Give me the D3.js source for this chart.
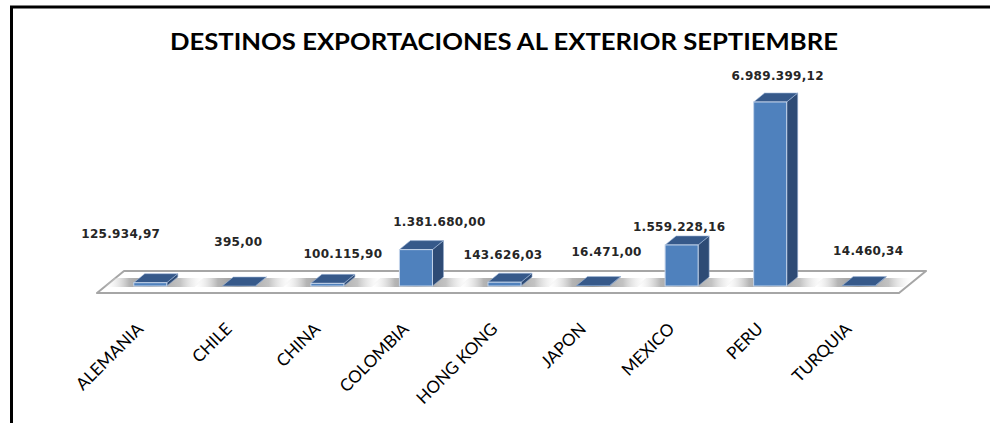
<!DOCTYPE html>
<html>
<head>
<meta charset="utf-8">
<script src="https://cdn.jsdelivr.net/npm/d3@7"></script>
<style>
  html, body { margin: 0; padding: 0; background: #fff; }
  svg { display: block; }
</style>
</head>
<body>
<svg id="chart" width="990" height="423"></svg>
<script>
// Export destinations, September
const categories = ["ALEMANIA", "CHILE", "CHINA", "COLOMBIA", "HONG KONG", "JAPON", "MEXICO", "PERU", "TURQUIA"];
const values = [125934.97, 395.00, 100115.90, 1381680.00, 143626.03, 16471.00, 1559228.16, 6989399.12, 14460.34];
const chartTitle = "DESTINOS EXPORTACIONES AL EXTERIOR SEPTIEMBRE";

// Hand placement of the value labels, relative to the default spot above each bar
const labelNudge = [[-35, -28], [-6, -23], [10, -8], [18, -7], [-7, -6], [8, -13], [-8, 3], [2, -5], [4, -14]];

const W = 990, H = 423;
const svg = d3.select("#chart");

// Outer frame (left and top edges)
svg.append("path")
  .attr("d", `M11.5,${H} V7 H${W}`)
  .attr("fill", "none")
  .attr("stroke", "#000")
  .attr("stroke-width", 3);

// Title
svg.append("text")
  .attr("x", 504)
  .attr("y", 50)
  .attr("text-anchor", "middle")
  .attr("font-family", "Lato, 'Open Sans', sans-serif")
  .attr("font-weight", 700)
  .attr("font-size", 23)
  .attr("textLength", 668)
  .attr("lengthAdjust", "spacingAndGlyphs")
  .attr("fill", "#000")
  .text(chartTitle);

// Scales
const x = d3.scaleBand()
  .domain(categories)
  .range([106, 903])
  .paddingInner(0.627)
  .paddingOuter(0.3135);

const y = d3.scaleLinear()
  .domain([0, 7000000])
  .range([286, 101.7]);

const bw = x.bandwidth();
const depthX = 11, depthY = 9;   // oblique depth of the 3D bars
const base = y(0);

// Floor plane
const floorFront = base + 7, floorBack = base - 15;
const floorLeft = x.range()[0] - 9, floorRight = x.range()[1] - 4;
const floorShift = 27;
svg.append("polygon")
  .attr("points", [
    [floorLeft, floorFront], [floorRight, floorFront],
    [floorRight + floorShift, floorBack], [floorLeft + floorShift, floorBack]
  ].map(p => p.join(",")).join(" "))
  .attr("fill", "#fff")
  .attr("stroke", "#a6a6a6")
  .attr("stroke-width", 2)
  .attr("stroke-linejoin", "round");

// Soft shadow gradient on the floor
const defs = svg.append("defs");
const grad = defs.append("linearGradient").attr("id", "floorShadow")
  .attr("x1", "0").attr("x2", "1").attr("y1", "0").attr("y2", "0");
[[0, "#ffffff", 0], [0.25, "#a8a8a8", 0.85], [0.45, "#8c8c8c", 0.9], [0.75, "#b4b4b4", 0.8], [1, "#ffffff", 0]]
  .forEach(([o, c, a]) => grad.append("stop").attr("offset", o).attr("stop-color", c).attr("stop-opacity", a));

const g = svg.append("g");

g.selectAll("polygon.shadow")
  .data(categories)
  .join("polygon")
  .attr("class", "shadow")
  .attr("points", d => {
    const x0 = x(d) - 30, x1 = x(d) + bw + 28;
    return [[x0, base + 1], [x1, base + 1], [x1 + depthX, base - depthY + 1], [x0 + depthX, base - depthY + 1]]
      .map(p => p.join(",")).join(" ");
  })
  .attr("fill", "url(#floorShadow)");

// 3D bars
const bars = g.selectAll("g.bar")
  .data(categories.map((c, i) => ({ c, v: values[i], i })))
  .join("g")
  .attr("class", "bar");

// side face
bars.append("polygon")
  .attr("points", d => {
    const x1 = x(d.c) + bw, yt = y(d.v);
    return [[x1, yt], [x1 + depthX, yt - depthY], [x1 + depthX, base - depthY], [x1, base]]
      .map(p => p.join(",")).join(" ");
  })
  .attr("fill", "#2e4b75")
  .attr("stroke", "#8ea8cb")
  .attr("stroke-width", 0.6);

// top face
bars.append("polygon")
  .attr("points", d => {
    const x0 = x(d.c), x1 = x0 + bw, yt = y(d.v);
    return [[x0, yt], [x0 + depthX, yt - depthY], [x1 + depthX, yt - depthY], [x1, yt]]
      .map(p => p.join(",")).join(" ");
  })
  .attr("fill", "#36598a")
  .attr("stroke", "#a3bbdb")
  .attr("stroke-width", 0.6);

// front face
bars.append("rect")
  .attr("x", d => x(d.c))
  .attr("y", d => y(d.v))
  .attr("width", bw)
  .attr("height", d => base - y(d.v))
  .attr("fill", "#4f81bd")
  .attr("stroke", "#c4d4ea")
  .attr("stroke-width", d => (base - y(d.v)) > 1.5 ? 1 : 0);

// Value labels (es-ES style number format)
const es = d3.formatLocale({ decimal: ",", thousands: ".", grouping: [3], currency: ["", ""] });
const fmt = es.format(",.2f");

g.selectAll("text.value")
  .data(categories.map((c, i) => ({ c, v: values[i], i })))
  .join("text")
  .attr("class", "value")
  .attr("x", d => x(d.c) + bw / 2 + depthX / 2 + labelNudge[d.i][0])
  .attr("y", d => y(d.v) - depthY - 8 + labelNudge[d.i][1])
  .attr("text-anchor", "middle")
  .attr("font-family", "'DejaVu Sans', Verdana, sans-serif")
  .attr("font-weight", 700)
  .attr("font-size", 12)
  .attr("letter-spacing", 0.3)
  .attr("fill", "#262626")
  .text(d => fmt(d.v));

// Category axis labels, rotated
g.selectAll("text.cat")
  .data(categories)
  .join("text")
  .attr("class", "cat")
  .attr("transform", d => `translate(${x(d) + bw / 2 - 6},${330}) rotate(-45)`)
  .attr("text-anchor", "end")
  .attr("font-family", "Lato, 'Open Sans', sans-serif")
  .attr("font-size", 17)
  .attr("fill", "#000")
  .text(d => d);
</script>
</body>
</html>
